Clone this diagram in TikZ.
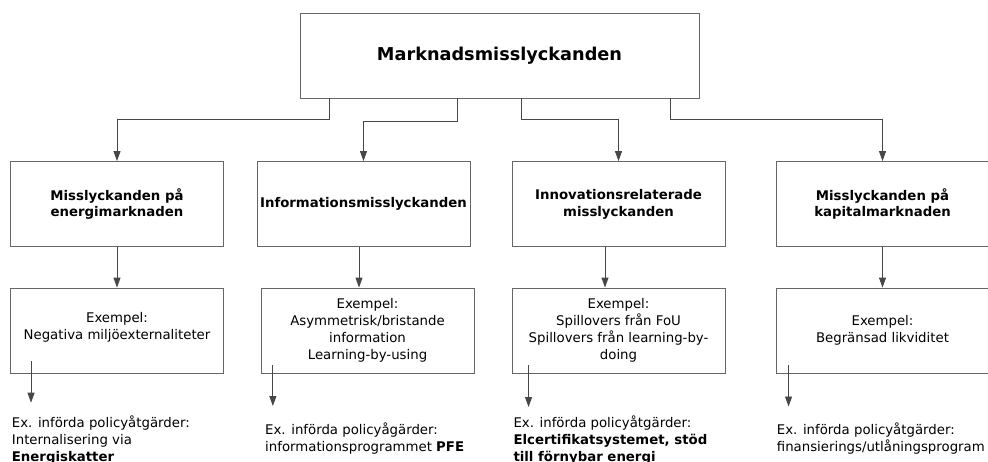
\documentclass[tikz,border=0pt]{standalone}
\usepackage{fontspec}
\setmainfont{DejaVu Sans}
\usetikzlibrary{arrows.meta}

\begin{document}
\begin{tikzpicture}[x=1pt, y=-1pt,
    boks/.style={draw=black!60, line width=0.9pt, minimum width=213pt, minimum height=85pt,
      align=center, inner sep=2pt, font=\fontsize{13.3}{16.8}\selectfont},
    rubrik/.style={boks, font=\fontsize{13.3}{16.8}\selectfont\bfseries},
    atgard/.style={anchor=north west, inner sep=0pt, align=left, font=\fontsize{13.3}{16.8}\selectfont},
    pil/.style={draw=black!72, line width=0.9pt, -{Triangle[length=10pt,width=7pt]}}]
  %tikz  Marknadsmisslyckanden, trad
    \useasboundingbox (0,0) rectangle (988,461);
    \node[boks, minimum width=399pt, font=\fontsize{17.7}{20}\selectfont\bfseries] (topp) at (499.5,55.5) {Marknadsmisslyckanden};

    \node[rubrik] (m1) at (117,204) {Misslyckanden på\\energimarknaden};
    \node[rubrik] (m2) at (363.5,204) {Informationsmisslyckanden};
    \node[rubrik] (m3) at (618.5,204) {Innovationsrelaterade\\misslyckanden};
    \node[rubrik] (m4) at (882.5,204) {Misslyckanden på\\kapitalmarknaden};

    \node[boks] (e1) at (117,330.5) {Exempel:\\Negativa miljöexternaliteter\\[-8pt]\mbox{}};
    \node[boks] (e2) at (367.5,330.5) {Exempel:\\Asymmetrisk/bristande\\information\\Learning-by-using};
    \node[boks] (e3) at (618.5,330.5) {Exempel:\\Spillovers från FoU\\Spillovers från learning-by-\\doing};
    \node[boks] (e4) at (882.5,330.5) {Exempel:\\Begränsad likviditet};

    \node[atgard] (p1) at (11.7,416) {Ex. införda policyåtgärder:\\Internalisering via\\\textbf{Energiskatter}};
    \node[atgard] (p2) at (265,423) {Ex. införda policyågärder:\\informationsprogrammet \textbf{PFE}};
    \node[atgard] (p3) at (513.3,416) {Ex. införda policyåtgärder:\\\textbf{Elcertifikatsystemet, stöd}\\\textbf{till förnybar energi}};
    \node[atgard] (p4) at (776.7,423) {Ex. införda policyåtgärder:\\finansierings/utlåningsprogram};

    % fran toppen
    \draw[pil] ([xshift=-170.5pt]topp.south) -- ++(0,21) -| (m1.north);
    \draw[pil] ([xshift=-42.5pt]topp.south) -- ++(0,23) -| (m2.north);
    \draw[pil] ([xshift=21.5pt]topp.south) -- ++(0,21) -| (m3.north);
    \draw[pil] ([xshift=170.5pt]topp.south) -- ++(0,21) -| (m4.north);

    \draw[pil] (m1.south) -- (e1.north);
    \draw[pil] ([xshift=-4.5pt]m2.south) -- ([xshift=-4.5pt]m2.south |- e2.north);
    \draw[pil] ([xshift=-13.5pt]m3.south) -- ([xshift=-13.5pt]m3.south |- e3.north);
    \draw[pil] (m4.south) -- (e4.north);

    \draw[pil, shorten >=13.3pt] ([xshift=21pt,yshift=12.3pt]e1.south west) -- ([xshift=21pt]e1.south west |- p1.north);
    \draw[pil, shorten >=17pt] ([xshift=12.3pt,yshift=8pt]e2.south west) -- ([xshift=12.3pt]e2.south west |- p2.north);
    \draw[pil, shorten >=9pt] ([xshift=17pt,yshift=8pt]e3.south west) -- ([xshift=17pt]e3.south west |- p3.north);
    \draw[pil, shorten >=16.5pt] ([xshift=13pt,yshift=8pt]e4.south west) -- ([xshift=13pt]e4.south west |- p4.north);
  \end{tikzpicture}
\end{document}
